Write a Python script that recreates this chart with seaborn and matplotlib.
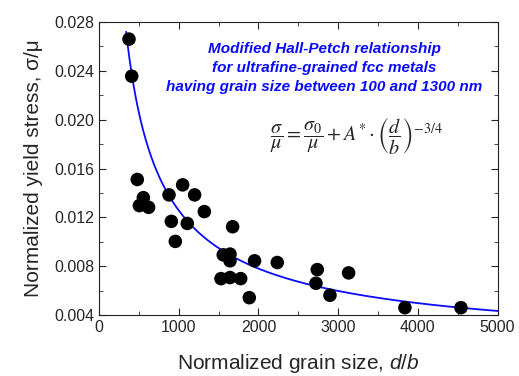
import numpy as np
import pandas as pd
import matplotlib
matplotlib.use("Agg")
import matplotlib.pyplot as plt
import seaborn as sns
from matplotlib.ticker import MultipleLocator, FormatStrFormatter

# normalized grain size d/b and normalized yield stress sigma/mu
grain_size = [376, 410, 480, 556, 506, 622, 878, 1049, 1199, 1321,
              907, 1107, 957, 1676, 1558, 1643, 1643, 1530, 1643, 1777,
              1885, 1951, 2236, 2738, 2721, 2897, 3131, 3837, 4540]
yield_stress = [0.0266, 0.02356, 0.0151, 0.01361, 0.01296, 0.01282, 0.01384, 0.01466, 0.01384, 0.01247,
                0.01167, 0.0115, 0.01003, 0.01123, 0.00893, 0.00899, 0.00844, 0.00698, 0.00707, 0.00698,
                0.00542, 0.00844, 0.0083, 0.00772, 0.0066, 0.00562, 0.00745, 0.0046, 0.0046]

# fit parameters of sigma/mu = sigma0/mu + A*(d/b)^(-3/4)
sigma0_mu = 0.000818
A_star = 2.089
fit_start, fit_end = 340, 5000

sns.set_style("ticks")
plt.rcParams["font.family"] = ["Liberation Sans", "DejaVu Sans"]
plt.rcParams["mathtext.fontset"] = "custom"
plt.rcParams["mathtext.it"] = "Liberation Sans:italic"
plt.rcParams["mathtext.rm"] = "Liberation Sans"

df = pd.DataFrame({"d_b": grain_size, "s_mu": yield_stress})
xf = np.linspace(fit_start, fit_end, 400)
fit = pd.DataFrame({"d_b": xf, "s_mu": sigma0_mu + A_star * xf ** -0.75})

fig = plt.figure(figsize=(5.19, 3.76), dpi=100)
ax = fig.add_axes([0.1908, 0.1622, 0.768, 0.7793])

sns.lineplot(data=fit, x="d_b", y="s_mu", color="#0a0aff", lw=1.3, ax=ax)
sns.scatterplot(data=df, x="d_b", y="s_mu", color="black", s=95,
                edgecolor="none", ax=ax, zorder=3)

ax.set_xlim(0, 5000)
ax.set_ylim(0.004, 0.028)
ax.xaxis.set_major_locator(MultipleLocator(1000))
ax.xaxis.set_minor_locator(MultipleLocator(500))
ax.yaxis.set_major_locator(MultipleLocator(0.004))
ax.yaxis.set_minor_locator(MultipleLocator(0.002))
ax.yaxis.set_major_formatter(FormatStrFormatter("%.3f"))
ax.tick_params(which="both", direction="in", top=True, right=True, labelsize=11.5)
ax.tick_params(which="major", length=5)
ax.tick_params(which="minor", length=3)
for s in ax.spines.values():
    s.set_color("#222222")

ax.set_xlabel("Normalized grain size, $d/b$", fontsize=15, labelpad=12)
ax.set_ylabel("Normalized yield stress, σ/μ", fontsize=15, labelpad=8)

ax.text(0.565, 0.843, "Modified Hall-Petch relationship\nfor ultrafine-grained fcc metals\nhaving grain size between 100 and 1300 nm",
        transform=ax.transAxes, ha="center", va="center", color="#0a0aff",
        fontsize=11, fontweight="bold", fontstyle="italic", linespacing=1.45)
ax.text(0.645, 0.608, r"$\dfrac{\sigma}{\mu}=\dfrac{\sigma_0}{\mu}+A^{*}\cdot\left(\dfrac{d}{b}\right)^{-3/4}$",
        transform=ax.transAxes, ha="center", va="center", fontsize=14.5,
        math_fontfamily="stix")

fig.savefig("out.png", dpi=100)
